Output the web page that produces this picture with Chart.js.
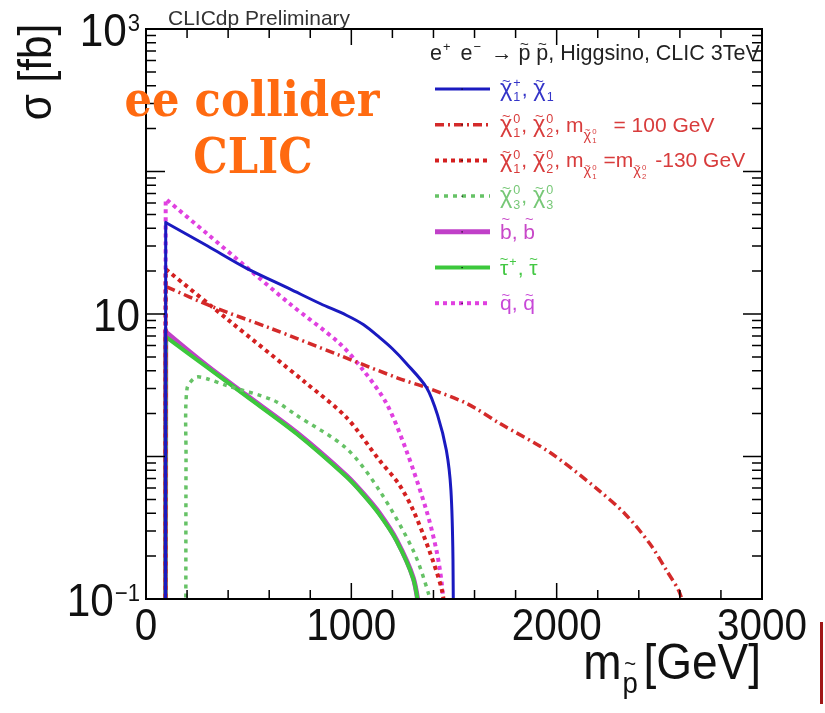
<!DOCTYPE html>
<html>
<head>
<meta charset="utf-8">
<script src="https://cdn.jsdelivr.net/npm/chart.js@4.4.1/dist/chart.umd.min.js"></script>
<style>
  html, body { margin: 0; padding: 0; background: #fff; }
  #wrap { width: 825px; height: 713px; }
</style>
</head>
<body>
<div id="wrap"><canvas id="xsec" width="825" height="713"></canvas></div>
<script>
// stop mass [GeV] vs cross section [fb]
const massCharginos = [95, 96, 100, 300, 488, 700, 850, 976, 1060, 1137, 1200, 1268, 1366, 1420, 1463, 1485, 1495, 1501];
const sigmaCharginos = [0.01, 44, 43.5, 30, 21, 15, 11.8, 9.8, 8.4, 6.85, 5.7, 4.5, 3.05, 1.95, 1.1, 0.58, 0.19, 0.01];

const massN1N2fix = [95, 96, 100, 327, 600, 941, 1229, 1361, 1561, 1722, 1966, 2195, 2332, 2454, 2537, 2595, 2630];
const sigmaN1N2fix = [0.01, 15.6, 15.5, 11.2, 8.0, 5.14, 3.54, 3.06, 2.36, 1.71, 1.07, 0.595, 0.397, 0.244, 0.157, 0.114, 0.08];

const massN1N2split = [95, 96, 100, 400, 780, 976, 1137, 1230, 1302, 1380, 1439, 1458];
const sigmaN1N2split = [0.01, 20.5, 20.4, 9.1, 3.27, 1.88, 0.94, 0.645, 0.417, 0.218, 0.119, 0.08];

const massN3N3 = [194, 195, 200, 244, 300, 390, 620, 732, 976, 1137, 1302, 1375, 1392];
const sigmaN3N3 = [0.01, 1.0, 3.0, 3.6, 3.5, 3.16, 2.48, 1.95, 1.14, 0.577, 0.218, 0.11, 0.08];

const massSbottom = [95, 96, 100, 300, 488, 732, 976, 1058, 1137, 1220, 1302, 1333];
const sigmaSbottom = [0.01, 7.6, 7.4, 4.3, 2.7, 1.48, 0.735, 0.55, 0.40, 0.26, 0.14, 0.08];

const massStau = [95, 96, 100, 300, 488, 732, 976, 1058, 1137, 1220, 1302, 1333];
const sigmaStau = [0.01, 6.9, 6.85, 4.2, 2.65, 1.45, 0.72, 0.54, 0.391, 0.256, 0.138, 0.08];

const massSquark = [95, 96, 100, 300, 488, 700, 941, 1060, 1171, 1268, 1366, 1415, 1440, 1452];
const sigmaSquark = [0.01, 64, 63.5, 36.3, 21.4, 11.8, 6.25, 4.0, 2.36, 1.1, 0.417, 0.218, 0.13, 0.08];

const xTickValues = [0, 1000, 2000, 3000];
const xTickLabels = ["0", "1000", "2000", "3000"];
const yTickValues = [0.1, 10, 1000];
const yTickBase = ["10", "10", "10"];
const yTickExp = ["\u22121", "", "3"];

const FONT = "'Liberation Sans', Arial, sans-serif";

function pts(xs, ys) {
  return xs.map((x, i) => ({ x: x, y: ys[i] }));
}

// index 0 is drawn on top
const datasets = [
  { label: "charginos", data: pts(massCharginos, sigmaCharginos), borderColor: "#1a1ac0", borderWidth: 3 },
  { label: "n1n2 fix", data: pts(massN1N2fix, sigmaN1N2fix), borderColor: "#d42a2a", borderWidth: 3.5, borderDash: [9, 4, 2, 4] },
  { label: "n1n2 split", data: pts(massN1N2split, sigmaN1N2split), borderColor: "#d42020", borderWidth: 4, borderDash: [4, 4] },
  { label: "n3n3", data: pts(massN3N3, sigmaN3N3), borderColor: "#66c266", borderWidth: 3.5, borderDash: [4, 5] },
  { label: "stau", data: pts(massStau, sigmaStau), borderColor: "#3cc83c", borderWidth: 4 },
  { label: "sbottom", data: pts(massSbottom, sigmaSbottom), borderColor: "#c040c8", borderWidth: 5 },
  { label: "squark", data: pts(massSquark, sigmaSquark), borderColor: "#e040e0", borderWidth: 4, borderDash: [4, 4] },
];

// text with tilde / stacked sub- and superscripts, ROOT style
function drawRich(ctx, parts, x, y, size, color) {
  ctx.fillStyle = color;
  ctx.textAlign = "left";
  ctx.textBaseline = "alphabetic";
  let cx = x;
  for (const p of parts) {
    if (typeof p === "string") {
      ctx.font = size + "px " + FONT;
      ctx.fillText(p, cx, y);
      cx += ctx.measureText(p).width;
      continue;
    }
    const sz = p.small ? size * 0.62 : size;
    const by = p.small ? y + size * 0.38 : y;
    ctx.font = (p.big ? sz * 1.12 : sz) + "px " + FONT;
    const w = ctx.measureText(p.s).width;
    ctx.fillText(p.s, cx, by);
    if (p.tilde) {
      ctx.font = (sz * 0.7) + "px " + FONT;
      const tw = ctx.measureText("~").width;
      ctx.fillText("~", cx + w / 2 - tw / 2, by - sz * p.tilde);
    }
    let sw = 0;
    ctx.font = (sz * 0.6) + "px " + FONT;
    if (p.sup) {
      ctx.fillText(p.sup, cx + w + 1, by - sz * 0.42);
      sw = Math.max(sw, ctx.measureText(p.sup).width);
    }
    if (p.sub) {
      ctx.fillText(p.sub, cx + w + 1, by + sz * 0.26);
      sw = Math.max(sw, ctx.measureText(p.sub).width);
    }
    cx += w + (sw ? sw + 2 : 0) + (p.gap || 0);
  }
  return cx - x;
}

const chi = (sub, sup, extra) => Object.assign({ s: "\u03c7", big: true, tilde: 0.5, sub: sub, sup: sup }, extra || {});

const legendRows = [
  { ds: 0, color: "#3535c8", parts: [chi("1", "+"), ", ", chi("1", "")] },
  { ds: 1, color: "#d83c3c", parts: [chi("1", "0"), ", ", chi("2", "0"), ", m", chi("1", "0", { small: true }), { s: "", gap: 16 }, "= 100 GeV"] },
  { ds: 2, color: "#d83c3c", parts: [chi("1", "0"), ", ", chi("2", "0"), ", m", chi("1", "0", { small: true }), { s: "", gap: 6 }, "=m", chi("2", "0", { small: true }), { s: "", gap: 8 }, "-130 GeV"] },
  { ds: 3, color: "#77c877", parts: [chi("3", "0"), ", ", chi("3", "0")] },
  { ds: 5, color: "#c848c8", parts: [{ s: "b", tilde: 0.72 }, ", ", { s: "b", tilde: 0.72 }] },
  { ds: 4, color: "#44c844", parts: [{ s: "\u03c4", tilde: 0.5, sup: "+" }, ", ", { s: "\u03c4", tilde: 0.5 }] },
  { ds: 6, color: "#c848d8", parts: [{ s: "q", tilde: 0.5 }, ", ", { s: "q", tilde: 0.5 }] },
];

const rootStyle = {
  id: "rootStyle",
  afterDatasetsDraw(chart) {
    const ctx = chart.ctx;
    const a = chart.chartArea;
    const xs = chart.scales.x;
    const ys = chart.scales.y;
    ctx.save();

    // frame
    ctx.strokeStyle = "#000";
    ctx.lineWidth = 2;
    ctx.setLineDash([]);
    ctx.strokeRect(a.left, a.top, a.right - a.left, a.bottom - a.top);

    // x ticks (inside, bottom and top)
    ctx.lineWidth = 1.5;
    ctx.beginPath();
    for (let v = 0; v <= 3000; v += 200) {
      const px = xs.getPixelForValue(v);
      const len = v % 1000 === 0 ? 16 : 9;
      ctx.moveTo(px, a.bottom); ctx.lineTo(px, a.bottom - len);
      ctx.moveTo(px, a.top); ctx.lineTo(px, a.top + len);
    }
    // y ticks (inside, left and right)
    for (let e = -1; e < 3; e++) {
      for (let k = 1; k <= 9; k++) {
        const v = k * Math.pow(10, e);
        const py = ys.getPixelForValue(v);
        const len = k === 1 ? 19 : 10;
        ctx.moveTo(a.left, py); ctx.lineTo(a.left + len, py);
        ctx.moveTo(a.right, py); ctx.lineTo(a.right - len, py);
      }
    }
    const pTop = ys.getPixelForValue(1000);
    ctx.moveTo(a.left, pTop); ctx.lineTo(a.left + 19, pTop);
    ctx.moveTo(a.right, pTop); ctx.lineTo(a.right - 19, pTop);
    ctx.stroke();

    // x tick labels
    ctx.fillStyle = "#111";
    ctx.textBaseline = "alphabetic";
    xTickValues.forEach((v, i) => {
      const px = xs.getPixelForValue(v);
      ctx.save();
      ctx.translate(px, 640);
      ctx.scale(0.92, 1);
      ctx.font = "44px " + FONT;
      ctx.textAlign = "center";
      ctx.fillText(xTickLabels[i], 0, 0);
      ctx.restore();
    });

    // y tick labels 10^n, right aligned
    yTickValues.forEach((v, i) => {
      const py = ys.getPixelForValue(v);
      ctx.save();
      ctx.translate(140, py + 17);
      ctx.scale(0.92, 1);
      ctx.font = "24px " + FONT;
      const ew = ctx.measureText(yTickExp[i]).width;
      ctx.textAlign = "right";
      ctx.fillText(yTickExp[i], 0, -15);
      ctx.font = "46px " + FONT;
      ctx.fillText(yTickBase[i], -ew - (ew ? 1 : 0), 0);
      ctx.restore();
    });

    // axis titles
    ctx.save();
    ctx.translate(51, 72);
    ctx.rotate(-Math.PI / 2);
    ctx.scale(0.92, 1);
    ctx.font = "46px " + FONT;
    ctx.textAlign = "center";
    ctx.fillText("\u03c3 [fb]", 0, 0);
    ctx.restore();

    ctx.save();
    ctx.translate(761, 679);
    ctx.scale(0.92, 1);
    ctx.font = "50px " + FONT;
    ctx.textAlign = "right";
    const gw = ctx.measureText("[GeV]").width + 6;
    ctx.fillText("[GeV]", 0, 0);
    ctx.font = "30px " + FONT;
    const pw = ctx.measureText("p").width;
    ctx.fillText("p", -gw, 14);
    ctx.font = "22px " + FONT;
    ctx.fillText("~", -gw - (pw - ctx.measureText("~").width) / 2, -8);
    ctx.font = "50px " + FONT;
    ctx.fillText("m", -gw - pw - 1, 0);
    ctx.restore();

    // top label
    ctx.font = "21px " + FONT;
    ctx.fillStyle = "#333";
    ctx.textAlign = "left";
    ctx.fillText("CLICdp Preliminary", 168, 25);

    // legend header
    drawRich(ctx, [{ s: "e", sup: "+", gap: 3 }, " ", { s: "e", sup: "\u2212", gap: 3 }, " \u2192 ", { s: "p", tilde: 0.5 }, " ", { s: "p", tilde: 0.5 }, ", Higgsino, CLIC 3TeV"], 430, 60, 21.5, "#222");

    // legend rows
    legendRows.forEach((row, i) => {
      const ds = chart.data.datasets[row.ds];
      const ly = 89 + i * 35.7;
      ctx.save();
      ctx.strokeStyle = ds.borderColor;
      ctx.lineWidth = ds.borderWidth;
      ctx.setLineDash(ds.borderDash || []);
      ctx.beginPath();
      ctx.moveTo(435, ly);
      ctx.lineTo(490, ly);
      ctx.stroke();
      ctx.fillStyle = "#000";
      ctx.fillRect(461.5, ly - 0.5, 1.2, 1.2);
      ctx.restore();
      drawRich(ctx, row.parts, 500, ly + 7, 21, row.color);
    });

    // overlay annotation
    ctx.fillStyle = "#ff6a10";
    ctx.textAlign = "center";
    ctx.save();
    ctx.translate(252, 116);
    ctx.scale(0.9, 1);
    ctx.font = "bold 48px 'DejaVu Serif', serif";
    ctx.fillText("ee collider", 0, 0);
    ctx.restore();
    ctx.save();
    ctx.translate(253, 173);
    ctx.scale(0.9, 1);
    ctx.font = "bold 48px 'DejaVu Serif', serif";
    ctx.fillText("CLIC", 0, 0);
    ctx.restore();

    // crop edge mark at the right
    ctx.fillStyle = "#a01818";
    ctx.fillRect(820, 622, 3, 82);

    ctx.restore();
  },
};

new Chart(document.getElementById("xsec"), {
  type: "line",
  data: { datasets: datasets },
  options: {
    responsive: false,
    animation: false,
    layout: { padding: { left: 146, right: 63, top: 29, bottom: 114 } },
    scales: {
      x: { type: "linear", min: 0, max: 3000, display: false },
      y: { type: "logarithmic", min: 0.1, max: 1000, display: false },
    },
    elements: {
      point: { radius: 0, hoverRadius: 0 },
      line: { tension: 0.3, fill: false },
    },
    plugins: {
      legend: { display: false },
      tooltip: { enabled: false },
    },
  },
  plugins: [rootStyle],
});
</script>
</body>
</html>
